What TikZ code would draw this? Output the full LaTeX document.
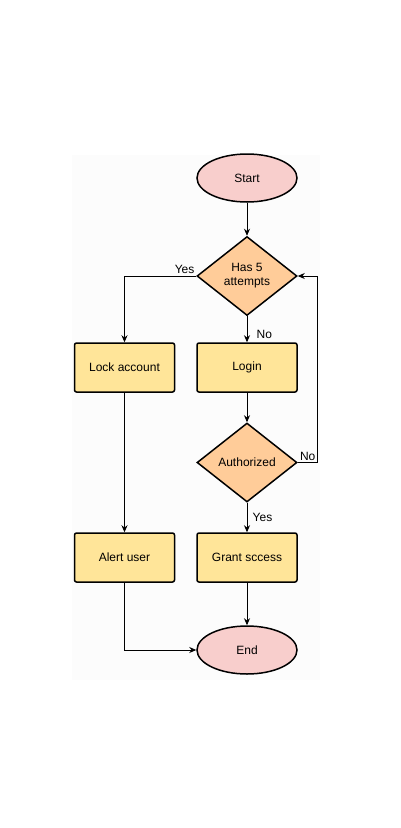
\documentclass[tikz,border=0pt]{standalone}
\usepackage{fontspec}
\setmainfont{Liberation Sans}
\usepackage{xcolor}
\usetikzlibrary{shapes.geometric, arrows.meta}
\definecolor{termfill}{HTML}{F8CECC}
\definecolor{decfill}{HTML}{FFCC99}
\definecolor{procfill}{HTML}{FFE599}
\begin{document}
\begin{tikzpicture}[x=1pt, y=-1pt]
			\tikzstyle{every node}=[font=\fontsize{12}{14}\selectfont];
			\tikzstyle{term}=[ellipse, draw, line width=1.5pt, fill=termfill, minimum width=100pt, minimum height=48pt, inner sep=0pt];
			\tikzstyle{decision}=[diamond, draw, line width=1.5pt, fill=decfill, minimum width=100pt, minimum height=79pt, inner sep=0pt, align=center];
			\tikzstyle{process}=[rectangle, rounded corners=2pt, draw, line width=1.5pt, fill=procfill, minimum width=100pt, minimum height=49pt];
			\tikzstyle{flow}=[line width=0.8pt, -{Stealth[length=7pt, width=6pt]}];
			
			%Frame
			\useasboundingbox (0, 0) rectangle (400, 828);
			\fill[black!1.2] (72, 155) rectangle (320, 680);
			
			%Shapes
			\node[term] (start) at (247, 178) {Start};
			\node[decision] (attempts) at (247, 276) {Has 5\\attempts};
			\node[process] (lock) at (124.5, 367.5) {Lock account};
			\node[process] (login) at (247, 367.5) {Login};
			\node[decision] (auth) at (247, 462.5) {Authorized};
			\node[process] (alert) at (124.5, 557.5) {Alert user};
			\node[process] (grant) at (247, 557.5) {Grant sccess};
			\node[term] (end) at (247, 650) {End};
			
			%Connectors
			\draw[flow] (start) -- (attempts);
			\draw[flow] (attempts.west) node[above left, inner sep=1.5pt] {Yes} -| (lock.north);
			\draw[flow] (attempts) -- node[pos=0.7, anchor=west, xshift=6pt] {No} (login);
			\draw[flow] (login) -- (auth);
			\draw[flow] (auth.east) -- node[above, inner sep=1.5pt] {No} ++(20, 0) |- (attempts.east);
			\draw[flow] (auth) -- node[pos=0.5, anchor=west, xshift=2pt] {Yes} (grant);
			\draw[flow] (lock) -- (alert);
			\draw[flow] (grant) -- (end);
			\draw[flow] (alert.south) |- (end.west);
\end{tikzpicture}
\end{document}
